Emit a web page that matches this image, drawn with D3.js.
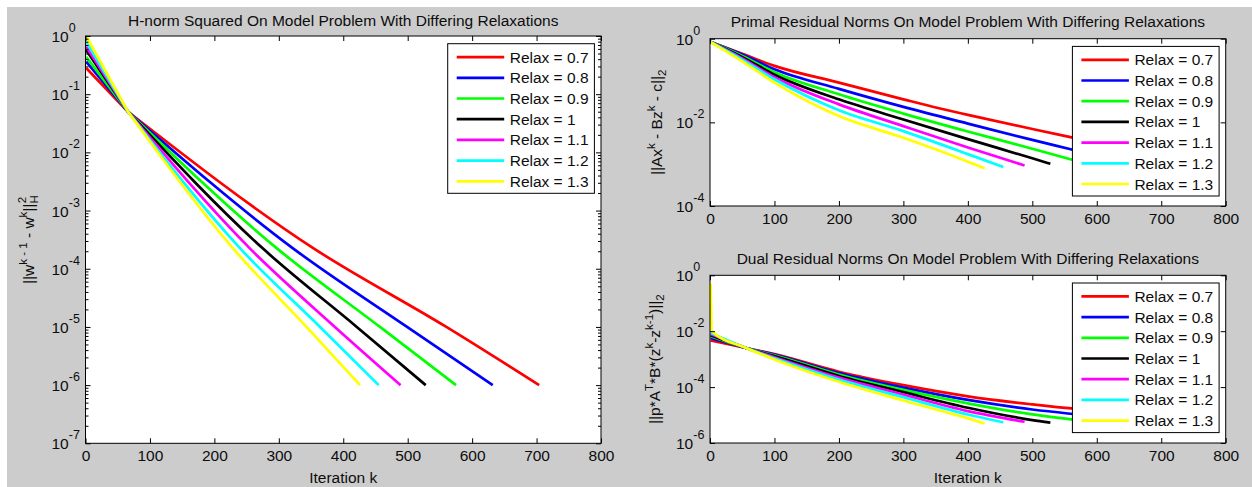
<!DOCTYPE html>
<html><head><meta charset="utf-8">
<script src="https://cdn.jsdelivr.net/npm/d3@7"></script>
<style>
html,body{margin:0;padding:0;background:#fff;}
svg{display:block;}
text{font-family:"Liberation Sans",Arial,Helvetica,sans-serif;fill:#0d0d0d;}
</style></head><body>
<svg id="fig" width="1252" height="487"></svg>
<script>
// ---------------- data ----------------
const relaxLabels = ["Relax = 0.7","Relax = 0.8","Relax = 0.9","Relax = 1","Relax = 1.1","Relax = 1.2","Relax = 1.3"];
const xTickValues = [0,100,200,300,400,500,600,700,800];
const hnormYTicks = [1e-7,1e-6,1e-5,1e-4,1e-3,1e-2,1e-1,1];
const primalYTicks = [1e-4,1e-2,1];
const dualYTicks = [1e-6,1e-4,1e-2,1];

// H-norm squared: iterations and values per relaxation
const hnormIters = [
  [1,66,354,560,704],
  [1,66,322,499,632],
  [1,66,297,457,575],
  [1,66,275,421,528],
  [1,66,255,387,489],
  [1,66,240,364,455],
  [1,66,229,343,426]
];
const hnormValues = [
  [0.282,5.0e-2,2.24e-4,1.0e-5,1.0e-6],
  [0.363,5.0e-2,2.24e-4,1.0e-5,1.0e-6],
  [0.437,5.0e-2,2.24e-4,1.0e-5,1.0e-6],
  [0.575,5.0e-2,2.24e-4,1.0e-5,1.0e-6],
  [0.661,5.0e-2,2.24e-4,1.0e-5,1.0e-6],
  [0.794,5.0e-2,2.24e-4,1.0e-5,1.0e-6],
  [1.0,5.0e-2,2.24e-4,1.0e-5,1.0e-6]
];

// Primal residual norms
const primalIters = [
  [1,50,100,200,300,357,400,500,561,704],
  [1,50,100,200,300,400,500,561,632],
  [1,50,100,200,300,400,500,575],
  [1,50,100,200,300,400,500,528],
  [1,50,100,200,300,400,488],
  [1,50,100,200,300,400,455],
  [1,50,100,200,300,400,426]
];
const primalValues = [
  [0.832,0.437,0.224,0.0891,0.0355,0.0214,0.0151,6.92e-3,4.37e-3,1.51e-3],
  [0.832,0.417,0.186,0.0631,0.0234,9.33e-3,3.80e-3,2.24e-3,1.20e-3],
  [0.832,0.389,0.158,0.0468,0.0162,6.03e-3,2.34e-3,1.12e-3],
  [0.832,0.363,0.138,0.0355,0.0117,3.98e-3,1.38e-3,1.02e-3],
  [0.832,0.339,0.120,0.0269,8.13e-3,2.51e-3,9.33e-4],
  [0.832,0.316,0.107,0.0195,6.17e-3,1.74e-3,8.51e-4],
  [0.832,0.288,0.0891,0.0141,4.27e-3,1.15e-3,7.94e-4]
];

// Dual residual norms
const dualIters = [
  [1,56,100,200,300,400,500,704],
  [1,56,100,200,300,400,500,632],
  [1,56,100,200,300,400,500,575],
  [1,56,100,200,300,400,500,528],
  [1,56,100,200,300,400,488],
  [1,56,100,200,300,400,455],
  [1,3,56,100,200,300,400,426]
];
const dualValues = [
  [4.68e-3,2.51e-3,1.51e-3,3.55e-4,1.17e-4,4.68e-5,2.40e-5,8.91e-6],
  [5.75e-3,2.51e-3,1.45e-3,3.16e-4,9.55e-5,3.47e-5,1.58e-5,7.94e-6],
  [6.61e-3,2.51e-3,1.38e-3,2.82e-4,7.94e-5,2.63e-5,1.05e-5,6.31e-6],
  [7.24e-3,2.51e-3,1.29e-3,2.51e-4,6.61e-5,1.82e-5,6.61e-6,5.37e-6],
  [7.94e-3,2.51e-3,1.17e-3,2.19e-4,5.37e-5,1.38e-5,5.75e-6],
  [8.71e-3,2.51e-3,1.07e-3,1.86e-4,4.37e-5,1.05e-5,5.50e-6],
  [0.501,1.0e-2,2.51e-3,9.77e-4,1.55e-4,3.31e-5,7.59e-6,5.01e-6]
];

// ---------------- style ----------------
const seriesColors = ["#ff0000","#0000ff","#00ff00","#000000","#ff00ff","#00ffff","#ffff00"];
const FS = 15.5;

const svg = d3.select("#fig");
svg.append("rect").attr("x",7).attr("y",7).attr("width",1245).attr("height",480).attr("fill","#cccccc");

function drawPanel(cfg){
  const x = d3.scaleLinear().domain([0,800]).range([cfg.x0,cfg.x1]);
  const y = d3.scaleLog().domain([cfg.yTicks[0],1]).range([cfg.y1,cfg.y0]);
  const g = svg.append("g");
  g.append("rect").attr("x",cfg.x0).attr("y",cfg.y0).attr("width",cfg.x1-cfg.x0).attr("height",cfg.y1-cfg.y0).attr("fill","#fff");

  // lines: a straight lead-in segment (up to cfg.split) then a smooth monotone curve
  const lineLin = d3.line().x(d=>x(d[0])).y(d=>y(d[1]));
  const lineSmooth = d3.line().x(d=>x(d[0])).y(d=>y(d[1])).curve(d3.curveMonotoneX);
  cfg.iters.forEach((ks,i)=>{
    const pts = ks.map((k,j)=>[k,cfg.values[i][j]]);
    const s = cfg.split;
    const dStr = s > 0 ? lineLin(pts.slice(0,s+1)) + lineSmooth(pts.slice(s)).replace(/^M[^A-Za-z]*/, "")
                       : lineSmooth(pts);
    g.append("path").attr("d",dStr).attr("fill","none")
      .attr("stroke",seriesColors[i]).attr("stroke-width",2.7).attr("stroke-linejoin","round");
  });

  // axes (ticks inward)
  const tickStyle = sel => { sel.select(".domain").remove(); sel.selectAll("line").attr("stroke","#000").attr("stroke-width",1); };
  const xb = g.append("g").attr("transform",`translate(0,${cfg.y1})`)
    .call(d3.axisBottom(x).tickValues(xTickValues).tickSize(-5).tickSizeOuter(0).tickPadding(7).tickFormat(d3.format("d")));
  tickStyle(xb);
  xb.selectAll("text").attr("font-size",FS).attr("fill","#0d0d0d").attr("font-family",null);
  const xt = g.append("g").attr("transform",`translate(0,${cfg.y0})`)
    .call(d3.axisTop(x).tickValues(xTickValues).tickSize(-5).tickSizeOuter(0).tickFormat(""));
  tickStyle(xt);

  const yl = g.append("g").attr("transform",`translate(${cfg.x0},0)`)
    .call(d3.axisLeft(y).tickValues(cfg.yTicks).tickSize(-5).tickSizeOuter(0).tickFormat(""));
  tickStyle(yl);
  const yr = g.append("g").attr("transform",`translate(${cfg.x1},0)`)
    .call(d3.axisRight(y).tickValues(cfg.yTicks).tickSize(-5).tickSizeOuter(0).tickFormat(""));
  tickStyle(yr);
  if(cfg.minor){
    const minorVals = [];
    cfg.yTicks.slice(0,-1).forEach(t=>{ for(let m=2;m<=9;m++) minorVals.push(t*m); });
    const ml = g.append("g").attr("transform",`translate(${cfg.x0},0)`)
      .call(d3.axisLeft(y).tickValues(minorVals).tickSize(-3).tickSizeOuter(0).tickFormat(""));
    tickStyle(ml);
    const mr = g.append("g").attr("transform",`translate(${cfg.x1},0)`)
      .call(d3.axisRight(y).tickValues(minorVals).tickSize(-3).tickSizeOuter(0).tickFormat(""));
    tickStyle(mr);
  }
  // y tick labels 10^n
  cfg.yTicks.forEach(t=>{
    const e = Math.round(Math.log10(t));
    const tx = g.append("text").attr("x",cfg.x0-34).attr("y",y(t)+6).attr("font-size",FS);
    tx.append("tspan").text("10");
    tx.append("tspan").attr("dy",-10).attr("font-size",12.5).text(String(e));
  });

  // frame
  g.append("rect").attr("x",cfg.x0).attr("y",cfg.y0).attr("width",cfg.x1-cfg.x0).attr("height",cfg.y1-cfg.y0)
    .attr("fill","none").attr("stroke","#000").attr("stroke-width",1);

  // title
  g.append("text").attr("x",(cfg.x0+cfg.x1)/2).attr("y",cfg.titleY).attr("text-anchor","middle")
    .attr("font-size",FS).text(cfg.title);
  if(cfg.xlabel){
    g.append("text").attr("x",(cfg.x0+cfg.x1)/2).attr("y",483).attr("text-anchor","middle")
      .attr("font-size",FS).text(cfg.xlabel);
  }
  // y label
  const yt = g.append("text").attr("transform",`translate(${cfg.ylabX},${(cfg.y0+cfg.y1)/2}) rotate(-90)`)
    .attr("text-anchor","middle").attr("font-size",FS);
  cfg.ylabel.forEach(p=>{
    const s = yt.append("tspan").text(p.t);
    if(p.dy) s.attr("dy",p.dy);
    if(p.dx) s.attr("dx",p.dx);
    if(p.fs) s.attr("font-size",p.fs);
  });

  // legend
  const lx = cfg.x1-153.3, ly = cfg.y0+7.7;
  const lg = g.append("g");
  lg.append("rect").attr("x",lx).attr("y",ly).attr("width",146.7).attr("height",149.6)
    .attr("fill","#fff").attr("stroke","#000").attr("stroke-width",1);
  relaxLabels.forEach((lab,i)=>{
    const cy = ly+13.4+i*20.7;
    lg.append("line").attr("x1",lx+9).attr("x2",lx+56.5).attr("y1",cy).attr("y2",cy)
      .attr("stroke",seriesColors[i]).attr("stroke-width",2.7);
    lg.append("text").attr("x",lx+62).attr("y",cy+5.5).attr("font-size",FS).text(lab);
  });
}

drawPanel({
  x0:85.5,x1:601,y0:36,y1:443.3,yTicks:hnormYTicks,minor:true,split:1,
  iters:hnormIters,values:hnormValues,
  title:"H-norm Squared On Model Problem With Differing Relaxations",titleY:25.5,
  xlabel:"Iteration k",ylabX:34,
  ylabel:[{t:"||w"},{t:"k - 1",dy:-7,fs:11.5},{t:" - w",dy:7},{t:"k",dy:-7,fs:11.5},{t:"||",dy:7},{t:"H",dy:4,fs:11.5},{t:"2",dx:-8,dy:-12,fs:11.5}]
});
drawPanel({
  x0:710,x1:1225.7,y0:38.7,y1:206,yTicks:primalYTicks,minor:false,split:0,
  iters:primalIters,values:primalValues,
  title:"Primal Residual Norms On Model Problem With Differing Relaxations",titleY:27,
  xlabel:null,ylabX:662,
  ylabel:[{t:"||Ax"},{t:"k",dy:-7,fs:11.5},{t:" - Bz",dy:7},{t:"k",dy:-7,fs:11.5},{t:" - c||",dy:7},{t:"2",dy:4,fs:11.5}]
});
drawPanel({
  x0:710,x1:1225.7,y0:275.3,y1:443,yTicks:dualYTicks,minor:false,split:0,
  iters:dualIters,values:dualValues,
  title:"Dual Residual Norms On Model Problem With Differing Relaxations",titleY:263.8,
  xlabel:"Iteration k",ylabX:660,
  ylabel:[{t:"||p*A"},{t:"T",dy:-7,fs:11.5},{t:"*B*(z",dy:7},{t:"k",dy:-7,fs:11.5},{t:"-z",dy:7},{t:"k-1",dy:-7,fs:11.5},{t:")||",dy:7},{t:"2",dy:4,fs:11.5}]
});
</script>
</body></html>
